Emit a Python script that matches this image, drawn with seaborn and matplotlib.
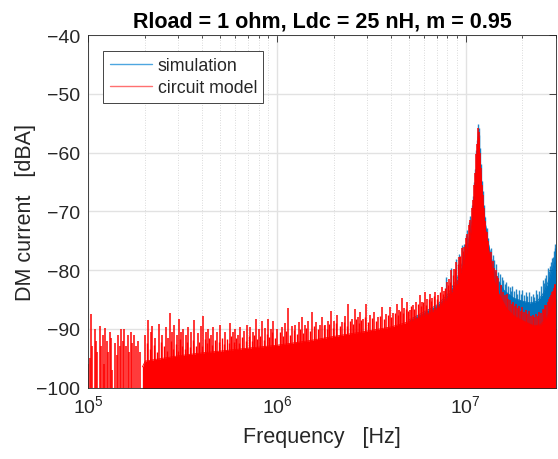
import numpy as np
import pandas as pd
import matplotlib
matplotlib.use("Agg")
import matplotlib.pyplot as plt
import seaborn as sns
from matplotlib.ticker import LogLocator, NullFormatter, LogFormatterSciNotation, FixedLocator
from matplotlib.lines import Line2D

# ---------------- data ----------------
title = "Rload = 1 ohm, Ldc = 25 nH, m = 0.95"
series_names = ["simulation", "circuit model"]

# circuit model: solid noise floor (Hz, dB)
red_base_hz = [1.93e5, 2.0e5, 2.5e5, 3e5, 4e5, 5e5, 7e5, 1e6, 1.5e6, 2e6, 3e6, 4e6, 5e6,
               6e6, 7e6, 8e6, 9e6, 1.0e7, 1.05e7, 1.1e7, 1.13e7, 1.15e7, 1.165e7, 1.18e7,
               1.2e7, 1.23e7, 1.27e7, 1.32e7, 1.4e7, 1.5e7, 1.65e7, 1.8e7, 2.0e7, 2.3e7,
               2.5e7, 2.7e7, 2.85e7, 3.0e7]
red_base_db = [-96.5, -95.5, -95.0, -94.6, -94.1, -93.8, -93.3, -92.8, -92.0, -91.3, -90.4, -89.7,
               -88.8, -87.8, -86.6, -84.9, -82.2, -77.9, -74.8, -70.3, -65.3, -61.3, -57.3, -59.3,
               -63.3, -68.3, -72.8, -76.3, -81.3, -84.1, -86.6, -87.8, -88.6, -89.5,
               -89.3, -87.9, -86.5, -84.8]

# circuit model: tall spike tops (kHz, dB)
red_spike_khz = [100, 101.5, 103, 104.5, 108, 109.5, 111, 115, 117, 119, 121, 123, 125, 127,
                 130, 132, 134, 139, 141, 144, 146.5, 149, 152, 155, 158, 161, 164, 167, 171,
                 175, 179, 183, 187,
                 200, 208, 214, 218, 226, 237, 246, 259, 265, 271, 278, 285, 294, 303, 310,
                 318, 328, 338, 350, 364, 380, 394, 406, 420, 432, 445, 458, 478, 500, 530,
                 564, 582, 600, 618, 636, 665, 694, 718, 745, 771, 800, 830, 865, 897, 925,
                 952, 1000, 1060, 1100, 1140, 1200, 1250, 1300, 1350, 1400, 1460, 1530, 1610,
                 1690, 1730, 1800, 1860, 1930, 2010, 2090, 2200, 2300, 2380, 2480, 2580,
                 2670, 2750, 2860, 2970, 3120, 3270, 3430, 3600, 3780, 3950, 4120, 4300,
                 4450, 4570, 4720, 4870, 5050, 5250, 5450, 5700, 5880, 6050, 6250, 6450,
                 6650, 6850, 7150, 7500, 7700, 7930, 8150, 8400, 8650, 8900, 9200, 9500,
                 9750, 10000, 10200, 10400, 10600, 10800, 10950, 11100, 11250, 11400, 11500,
                 11600, 11700, 11800, 11900, 12000, 12150, 12300, 12500, 12700, 12950, 13200,
                 13550, 13900, 14200, 14400, 14700, 14900, 15300, 15800, 16100, 16500, 16800,
                 17100, 17500, 17800, 18200, 18500, 18900, 19200, 19600, 20000, 20400, 20800,
                 21200, 21700, 22100, 22600, 23100, 23600, 24100, 24600, 25100, 25600, 26000,
                 26400, 26800, 27200, 27600, 28000, 28400, 28700, 29000, 29300, 29600, 29900]
red_spike_db = [-96, -95, -87.5, -93, -90, -92, -94, -89.5, -93, -91, -96, -89.8, -92, -94,
                -90.5, -91.5, -97, -92.5, -94.5, -91, -93, -90, -92, -90, -93, -91, -94, -90.5,
                -92.5, -91, -93, -92, -94,
                -91, -88.5, -90.5, -89.5, -91.5, -89.2, -91, -89.7, -91.5, -87.3, -90.5,
                -89.4, -91, -88.3, -90.5, -90.0, -91, -89.7, -90.5, -88.5, -90.8, -89.5,
                -87.9, -90.5, -90.0, -91, -89.7, -90.6, -89.4, -90.6, -89.1, -90.5, -90.0,
                -91, -89.7, -90.3, -89.4, -89.7, -90.5, -88.3, -90, -88.6, -89.8, -88.3,
                -90, -88.6, -90, -89.7, -89, -86.5, -89.6, -89.4, -88.8, -88.0, -89.3,
                -88.6, -87.1, -88.9, -89.4, -88, -89.3, -88.6, -86.9, -88.6, -87.7, -88.8,
                -87.9, -85.7, -88.3, -86.6, -88, -87.2, -88.4, -85.7, -87.6, -87.2, -88,
                -86.3, -87.5, -86.3, -87.4, -85.7, -86.8, -84.8, -86.5, -85.5, -86.8, -86,
                -85.5, -84.3, -85.5, -83.8, -85, -84.1, -84.8, -83.8, -84.2, -82.9, -83.5,
                -82.0, -81.5, -80, -79.8, -78.6, -77.8, -76.3, -76, -74.6, -73.8, -72.3,
                -71.5, -69.5, -68, -65.5, -63.5, -60.3, -58.5, -55.8, -56.5, -57.5, -60,
                -62.6, -65.5, -67.2, -69.5, -71.7, -73.5, -75.1, -77, -78.5, -79.6, -80.0,
                -81.0, -81.4, -82.5, -83.7, -84.3, -84.0, -85.0, -85.1, -85.8, -85.4, -86.2,
                -85.7, -86.5, -86.2, -86.9, -86.3, -87.2, -86.8, -87.5, -86.9, -87.8, -87.6,
                -88.0, -87.5, -87.9, -87.2, -87.4, -86.6, -86.8, -86.0, -85.9, -85.4, -85.0,
                -84.6, -84.2, -83.7, -83.5, -83.0, -82.6, -82.3]

# circuit model: short spikes between the tall ones (kHz, dB)
red_fine_khz = [204, 211, 222, 231, 241, 252, 262, 274, 282, 290, 299, 306, 314, 323, 333,
                344, 357, 372, 387, 400, 413, 426, 438, 451, 467, 489, 512, 520, 545, 555,
                573, 591, 609, 627, 650, 680, 706, 732, 758, 785, 815, 847, 880, 911, 938,
                976, 1030, 1080, 1120, 1170, 1225, 1275, 1325, 1375, 1430, 1495, 1570, 1650,
                1765, 1830, 1895, 1970, 2050, 2150, 2250, 2340, 2430, 2530, 2620, 2710, 2800,
                2910, 3040, 3200, 3350, 3520, 3690, 3860, 4040, 4210, 4380, 4510, 4650, 4800,
                4960, 5150, 5350, 5580, 5800, 5960, 6150, 6350, 6550, 6750, 7000, 7300, 7600,
                7800, 8050, 8270, 8520, 8770, 9050, 9350, 9620, 9880]
red_fine_db = [-92.5, -93.5, -92.8, -93.9, -92.2, -93.0, -93.8, -92.1, -93.4, -92.6, -93.7,
               -91.8, -92.9, -93.5, -92.2, -93.1, -91.9, -92.9, -92.2, -93.0, -91.8, -92.5,
               -91.5, -92.7, -91.9, -92.3, -91.6, -92.6, -91.7, -92.4, -91.3, -92.2, -91.6,
               -92.4, -91.4, -92.0, -91.3, -92.1, -91.0, -91.7, -91.2, -91.9, -90.9, -91.4,
               -90.6, -91.5, -90.5, -91.2, -90.3, -91.0, -90.2, -90.9, -90.0, -90.7, -89.8,
               -90.4, -89.6, -90.1, -89.4, -90.0, -89.2, -89.9, -89.0, -89.6, -88.8, -89.5,
               -88.6, -89.2, -88.4, -89.0, -88.5, -88.0, -88.8, -88.2, -88.7, -87.8, -88.3,
               -87.6, -88.0, -87.3, -87.7, -86.9, -87.4, -86.6, -87.0, -86.2, -86.7, -85.8,
               -86.2, -85.4, -85.9, -84.9, -85.3, -84.5, -84.9, -83.8, -84.1, -83.0, -82.6,
               -82.0, -80.8, -79.9, -78.9, -77.6, -76.8, -75.5]

# simulation: solid floor (Hz, dB) where it shows above the circuit model
blue_base_hz = [5e6, 7e6, 8e6, 9e6, 1e7, 1.05e7, 1.1e7, 1.13e7, 1.15e7, 1.165e7, 1.18e7,
                1.2e7, 1.23e7, 1.27e7, 1.32e7, 1.4e7, 1.5e7, 1.6e7, 1.8e7, 2.0e7, 2.2e7,
                2.4e7, 2.6e7, 2.8e7, 3.0e7]
blue_base_db = [-88.5, -86, -84.2, -81.5, -77, -74, -69.5, -64.5, -60.5, -56.5, -58.5,
                -62.5, -67.5, -72, -75.5, -79.5, -82, -83.5, -84.8, -85.3, -85.6,
                -85.3, -83.8, -81.2, -78.2]

# simulation: spike tops (kHz, dB)
blue_spike_khz = [7900, 8400, 8900, 9200, 9500, 9750, 10000, 10200, 10400, 10600, 10800,
                  10950, 11100, 11250, 11400, 11500, 11600, 11700, 11800, 11900, 12000,
                  12150, 12300, 12500, 12700, 12950, 13200, 13550, 13900, 14200, 14500,
                  14900, 15200, 15500, 15800, 16100, 16400, 16800, 17100, 17400, 17700,
                  18100, 18500, 18800, 19200, 19600, 20000, 20400, 20800, 21200, 21700,
                  22100, 22600, 23100, 23600, 24000, 24500, 25000, 25600, 26000, 26400,
                  26800, 27200, 27600, 28000, 28400, 28700, 29000, 29300, 29600, 29900]
blue_spike_db = [-81.2, -79.6, -78.2, -77.3, -75.8, -75.5, -74.0, -73.2, -71.8, -70.8, -69.0,
                 -67.4, -65.0, -62.8, -59.6, -57.8, -55.2, -55.8, -57.0, -59.2, -62.0,
                 -64.8, -66.6, -68.9, -71.0, -72.8, -74.5, -76.2, -77.4, -78.3, -79.0,
                 -80.3, -80.6, -81.2, -81.7, -82.4, -82.0, -82.8, -82.9, -83.5, -82.8,
                 -83.6, -83.2, -84.0, -83.4, -84.1, -83.4, -84.3, -83.8, -84.5, -83.7,
                 -84.4, -84.0, -84.6, -83.4, -84.0, -83.6, -82.8, -81.7, -82.2, -81.3,
                 -80.8, -79.7, -80.2, -79.3, -78.6, -78.0, -77.8, -76.8, -76.2, -75.6]

x_ticks = [1e5, 1e6, 1e7]
y_ticks = [-100, -90, -80, -70, -60, -50, -40]

# ---------------- style ----------------
sns.set_theme(style="white")
plt.rcParams["font.family"] = ["Liberation Sans", "DejaVu Sans"]
plt.rcParams["mathtext.fontset"] = "custom"
plt.rcParams["mathtext.rm"] = "Liberation Sans"
plt.rcParams["mathtext.it"] = "Liberation Sans:italic"
plt.rcParams["mathtext.bf"] = "Liberation Sans:bold"

BLUE = "#0072BD"
RED = "#FF0000"
INK = "#262626"
FLOOR = -110

fig = plt.figure(figsize=(5.58, 4.60), dpi=100)
ax = fig.add_axes([0.1586, 0.1554, 0.8373, 0.7663])

blue_df = pd.DataFrame({"f": blue_base_hz, "db": blue_base_db})
red_df = pd.DataFrame({"f": red_base_hz, "db": red_base_db})

# simulation (drawn first, circuit model on top)
ax.fill_between(blue_df["f"], FLOOR, blue_df["db"], color=BLUE, lw=0, zorder=2)
sns.lineplot(data=blue_df, x="f", y="db", color=BLUE, lw=0.6, ax=ax, zorder=2,
             estimator=None, sort=False, legend=False)
ax.vlines(np.array(blue_spike_khz) * 1e3, FLOOR, blue_spike_db, color=BLUE, lw=1.0,
          alpha=0.85, zorder=2)

# circuit model
ax.fill_between(red_df["f"], FLOOR, red_df["db"], color=RED, lw=0, zorder=3)
sns.lineplot(data=red_df, x="f", y="db", color=RED, lw=0.6, ax=ax, zorder=3,
             estimator=None, sort=False, legend=False)
ax.vlines(np.array(red_fine_khz) * 1e3, FLOOR, red_fine_db, color=RED, lw=1.0,
          alpha=1.0, zorder=3)
ax.vlines(np.array(red_spike_khz) * 1e3, FLOOR, red_spike_db, color=RED, lw=1.1,
          alpha=1.0, zorder=3)

ax.set_xscale("log")
ax.set_xlim(1e5, 3e7)
ax.set_ylim(-100, -40)
ax.xaxis.set_major_locator(FixedLocator(x_ticks))
ax.xaxis.set_major_formatter(LogFormatterSciNotation())
ax.xaxis.set_minor_locator(LogLocator(base=10, subs=np.arange(2, 10)))
ax.xaxis.set_minor_formatter(NullFormatter())
ax.set_yticks(y_ticks)

ax.set_axisbelow(True)
ax.grid(which="major", color="#e2e2e2", lw=1.0, ls="-")
ax.grid(which="minor", axis="x", color="#cfcfcf", lw=0.6, ls=(0, (1, 2)))

ax.tick_params(which="both", direction="in", top=True, right=True, colors=INK,
               width=0.6, labelsize=14)
ax.tick_params(which="major", length=5)
ax.tick_params(which="minor", length=2.5)
ax.tick_params(axis="y", pad=6)
ax.tick_params(axis="x", pad=5)
for sp in ax.spines.values():
    sp.set_color(INK)
    sp.set_linewidth(0.6)
    sp.set_zorder(5)

ax.set_xlabel("Frequency   [Hz]", fontsize=15.5, color=INK, labelpad=7)
ax.set_ylabel("DM current   [dBA]", fontsize=15.5, color=INK)
ax.yaxis.set_label_coords(-0.112, 0.5)
ax.set_title(title, fontsize=15.5, fontweight="bold", color="black", pad=6)

handles = [Line2D([], [], color="#4DA6E0", lw=1.0),
           Line2D([], [], color="#FF7070", lw=1.0)]
leg = ax.legend(handles, series_names, loc="upper left", bbox_to_anchor=(0.032, 0.955),
                borderaxespad=0, fontsize=12.8, frameon=True, fancybox=False,
                framealpha=1, edgecolor=INK, borderpad=0.35, handlelength=2.4,
                handletextpad=0.3, labelspacing=0.3)
leg.get_frame().set_linewidth(0.6)
for t in leg.get_texts():
    t.set_color(INK)
leg.set_zorder(6)

fig.savefig("out.png", dpi=100)
